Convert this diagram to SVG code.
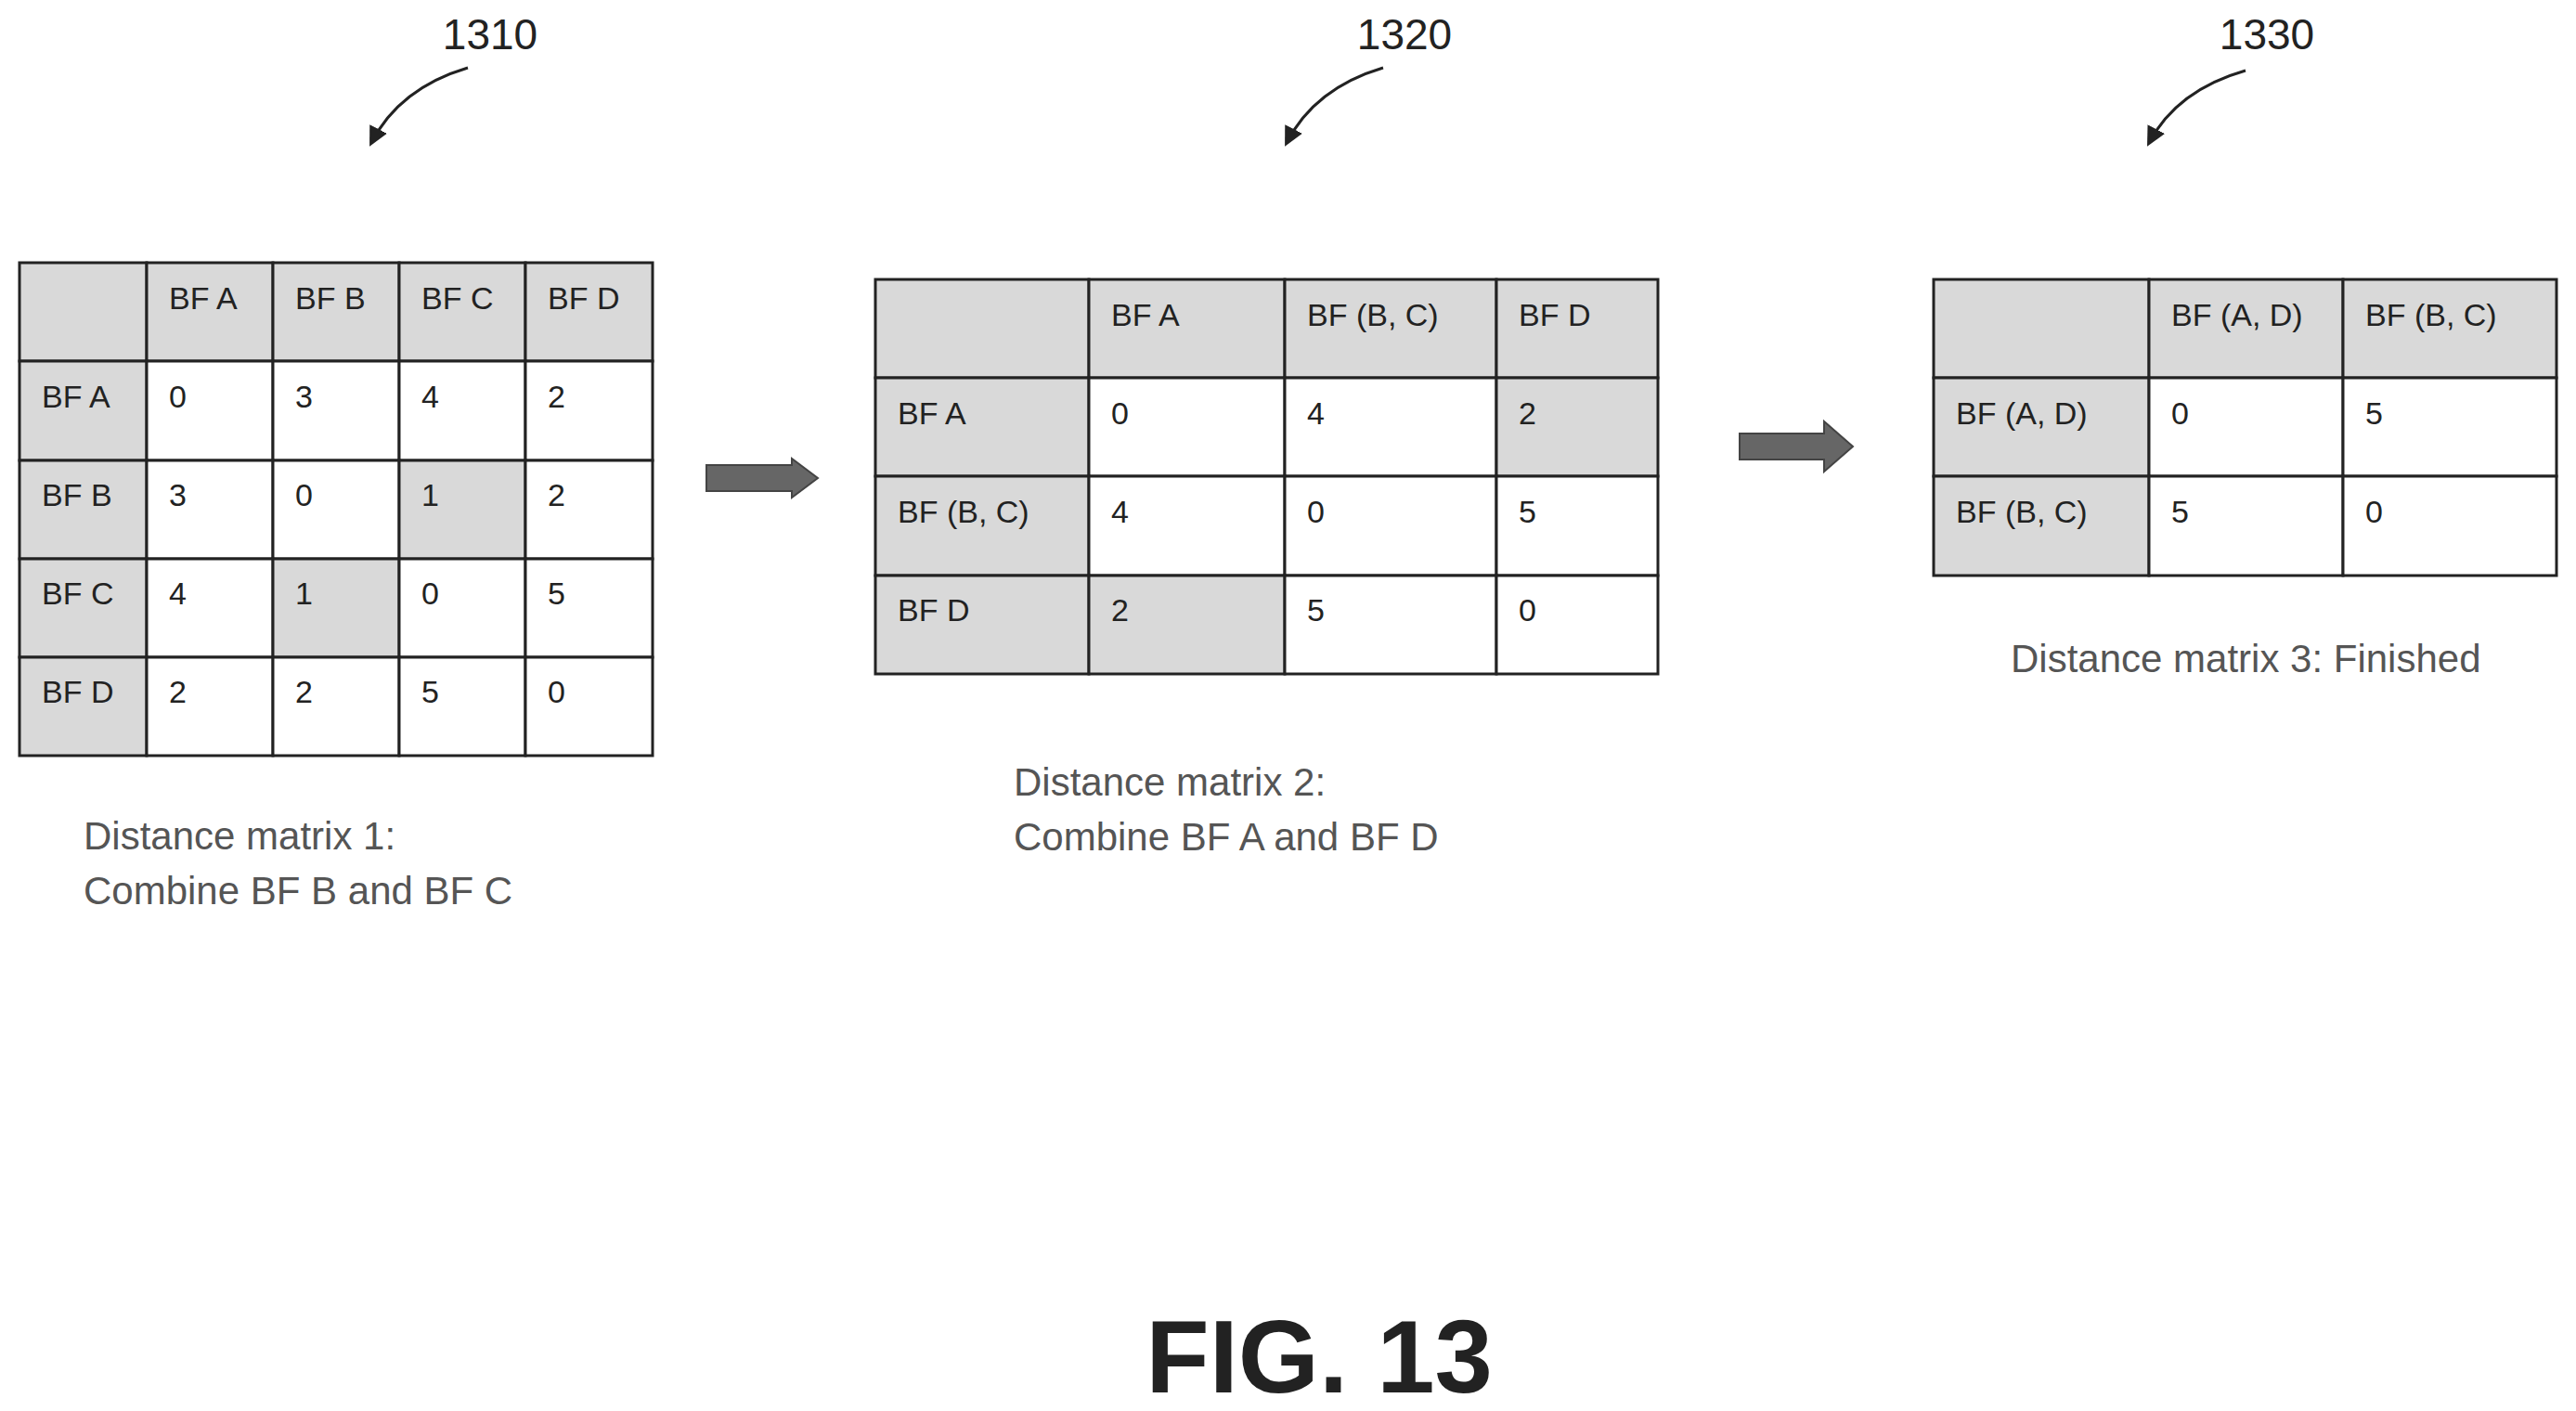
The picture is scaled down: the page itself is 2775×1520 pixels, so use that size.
<svg xmlns="http://www.w3.org/2000/svg" width="2775" height="1520" viewBox="0 0 2775 1520">
<style>
.c{stroke:#222;stroke-width:3;fill:#fff}
.g{stroke:#222;stroke-width:3;fill:#d9d9d9}
.t{font-family:"Liberation Sans",Arial,sans-serif;font-size:34px;fill:#222}
.cap{font-family:"Liberation Sans",Arial,sans-serif;font-size:42px;fill:#555}
.ref{font-family:"Liberation Sans",Arial,sans-serif;font-size:46px;fill:#222}
.cur{fill:none;stroke:#222;stroke-width:3}
.blk{fill:#666;stroke:#444;stroke-width:2}
</style>
<defs><marker id="ah" viewBox="0 0 10 10" refX="8" refY="5" markerWidth="7" markerHeight="7" orient="auto"><path d="M0,0 L10,5 L0,10 Z" fill="#222"/></marker></defs>
<g id="m1">
<rect class="g" x="21" y="283" width="137" height="106"/><rect class="g" x="158" y="283" width="136" height="106"/><rect class="g" x="294" y="283" width="136" height="106"/><rect class="g" x="430" y="283" width="136" height="106"/><rect class="g" x="566" y="283" width="137" height="106"/>
<rect class="g" x="21" y="389" width="137" height="107"/><rect class="c" x="158" y="389" width="136" height="107"/><rect class="c" x="294" y="389" width="136" height="107"/><rect class="c" x="430" y="389" width="136" height="107"/><rect class="c" x="566" y="389" width="137" height="107"/>
<rect class="g" x="21" y="496" width="137" height="106"/><rect class="c" x="158" y="496" width="136" height="106"/><rect class="c" x="294" y="496" width="136" height="106"/><rect class="g" x="430" y="496" width="136" height="106"/><rect class="c" x="566" y="496" width="137" height="106"/>
<rect class="g" x="21" y="602" width="137" height="106"/><rect class="c" x="158" y="602" width="136" height="106"/><rect class="g" x="294" y="602" width="136" height="106"/><rect class="c" x="430" y="602" width="136" height="106"/><rect class="c" x="566" y="602" width="137" height="106"/>
<rect class="g" x="21" y="708" width="137" height="106"/><rect class="c" x="158" y="708" width="136" height="106"/><rect class="c" x="294" y="708" width="136" height="106"/><rect class="c" x="430" y="708" width="136" height="106"/><rect class="c" x="566" y="708" width="137" height="106"/>
<text class="t" x="182" y="333">BF A</text><text class="t" x="318" y="333">BF B</text><text class="t" x="454" y="333">BF C</text><text class="t" x="590" y="333">BF D</text>
<text class="t" x="45" y="439">BF A</text><text class="t" x="182" y="439">0</text><text class="t" x="318" y="439">3</text><text class="t" x="454" y="439">4</text><text class="t" x="590" y="439">2</text>
<text class="t" x="45" y="545">BF B</text><text class="t" x="182" y="545">3</text><text class="t" x="318" y="545">0</text><text class="t" x="454" y="545">1</text><text class="t" x="590" y="545">2</text>
<text class="t" x="45" y="651">BF C</text><text class="t" x="182" y="651">4</text><text class="t" x="318" y="651">1</text><text class="t" x="454" y="651">0</text><text class="t" x="590" y="651">5</text>
<text class="t" x="45" y="757">BF D</text><text class="t" x="182" y="757">2</text><text class="t" x="318" y="757">2</text><text class="t" x="454" y="757">5</text><text class="t" x="590" y="757">0</text>
<text class="cap" x="90" y="915">Distance matrix 1:</text><text class="cap" x="90" y="974">Combine BF B and BF C</text>
</g>
<g id="m2">
<rect class="g" x="943" y="301" width="230" height="106"/><rect class="g" x="1173" y="301" width="211" height="106"/><rect class="g" x="1384" y="301" width="228" height="106"/><rect class="g" x="1612" y="301" width="174" height="106"/>
<rect class="g" x="943" y="407" width="230" height="106"/><rect class="c" x="1173" y="407" width="211" height="106"/><rect class="c" x="1384" y="407" width="228" height="106"/><rect class="g" x="1612" y="407" width="174" height="106"/>
<rect class="g" x="943" y="513" width="230" height="107"/><rect class="c" x="1173" y="513" width="211" height="107"/><rect class="c" x="1384" y="513" width="228" height="107"/><rect class="c" x="1612" y="513" width="174" height="107"/>
<rect class="g" x="943" y="620" width="230" height="106"/><rect class="g" x="1173" y="620" width="211" height="106"/><rect class="c" x="1384" y="620" width="228" height="106"/><rect class="c" x="1612" y="620" width="174" height="106"/>
<text class="t" x="1197" y="351">BF A</text><text class="t" x="1408" y="351">BF (B, C)</text><text class="t" x="1636" y="351">BF D</text>
<text class="t" x="967" y="457">BF A</text><text class="t" x="1197" y="457">0</text><text class="t" x="1408" y="457">4</text><text class="t" x="1636" y="457">2</text>
<text class="t" x="967" y="563">BF (B, C)</text><text class="t" x="1197" y="563">4</text><text class="t" x="1408" y="563">0</text><text class="t" x="1636" y="563">5</text>
<text class="t" x="967" y="669">BF D</text><text class="t" x="1197" y="669">2</text><text class="t" x="1408" y="669">5</text><text class="t" x="1636" y="669">0</text>
<text class="cap" x="1092" y="857">Distance matrix 2:</text><text class="cap" x="1092" y="916">Combine BF A and BF D</text>
</g>
<g id="m3">
<rect class="g" x="2083" y="301" width="232" height="106"/><rect class="g" x="2315" y="301" width="209" height="106"/><rect class="g" x="2524" y="301" width="230" height="106"/>
<rect class="g" x="2083" y="407" width="232" height="106"/><rect class="c" x="2315" y="407" width="209" height="106"/><rect class="c" x="2524" y="407" width="230" height="106"/>
<rect class="g" x="2083" y="513" width="232" height="107"/><rect class="c" x="2315" y="513" width="209" height="107"/><rect class="c" x="2524" y="513" width="230" height="107"/>
<text class="t" x="2339" y="351">BF (A, D)</text><text class="t" x="2548" y="351">BF (B, C)</text>
<text class="t" x="2107" y="457">BF (A, D)</text><text class="t" x="2339" y="457">0</text><text class="t" x="2548" y="457">5</text>
<text class="t" x="2107" y="563">BF (B, C)</text><text class="t" x="2339" y="563">5</text><text class="t" x="2548" y="563">0</text>
<text class="cap" x="2166" y="724">Distance matrix 3: Finished</text>
</g>
<g id="labels">
<text class="ref" x="528" y="53" text-anchor="middle">1310</text>
<text class="ref" x="1513" y="53" text-anchor="middle">1320</text>
<text class="ref" x="2442" y="53" text-anchor="middle">1330</text>
<text x="1421" y="1500" text-anchor="middle" font-family="Liberation Sans,Arial,sans-serif" font-weight="bold" font-size="112" fill="#222">FIG. 13</text>
</g>
<g id="connectors">
<path class="cur" d="M504,73 Q430,95 400,154" marker-end="url(#ah)"/>
<path class="cur" d="M1490,73 Q1416,95 1386,154" marker-end="url(#ah)"/>
<path class="cur" d="M2419,76 Q2345,97 2315,154" marker-end="url(#ah)"/>
<path class="blk" d="M761,501 H853 V494 L881,515 L853,536 V529 H761 Z"/>
<path class="blk" d="M1874,467 H1965 V454 L1996,481 L1965,508 V495 H1874 Z"/>
</g>
</svg>
